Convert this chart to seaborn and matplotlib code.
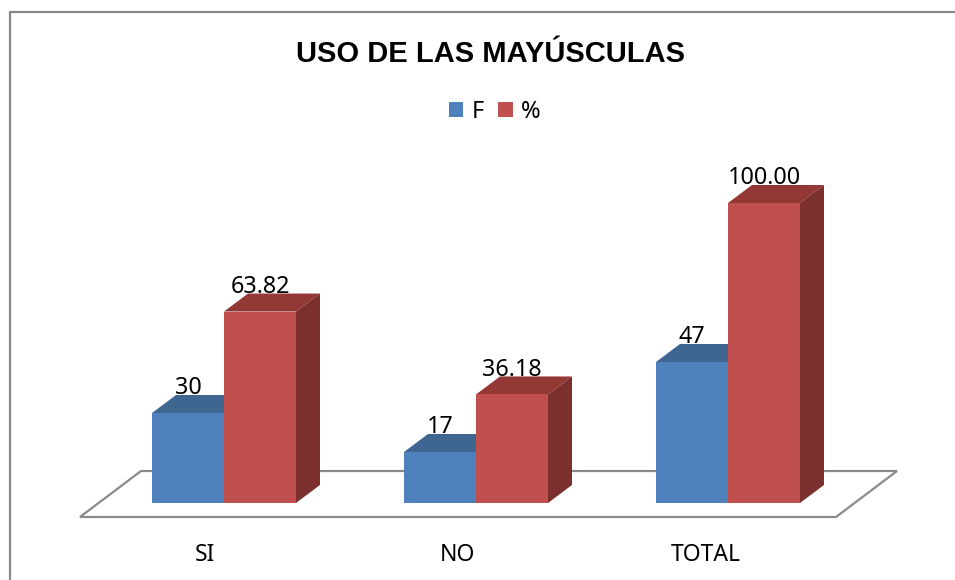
import pandas as pd
import seaborn as sns
import matplotlib.pyplot as plt
from matplotlib.lines import Line2D
from matplotlib.patches import Polygon

categories = ['SI', 'NO', 'TOTAL']
f_values = [30, 17, 47]
pct_values = [63.82, 36.18, 100.00]
series_names = ['F', '%']

blue = '#4F81BD'
red = '#C0504D'
gray = '#8A8A8A'
faces = {'F': ('#3F6591', '#375A80'), '%': ('#943836', '#7B302E')}

# fake 3d depth in data units (252 px per category, 3 px per value)
DEPTH_X = 24 / 252
DEPTH_Y = 18 / 3


def to_px_x(px):
    return (px - 224) / 252


def to_px_y(px):
    return (503 - px) / 3


def create_chart(output_path='out.png'):
    sns.set_theme(style='white')
    plt.rcParams['font.family'] = ['Noto Sans', 'DejaVu Sans']
    plt.rcParams['text.color'] = 'black'

    df = pd.DataFrame({
        'categoria': categories * 2,
        'serie': [series_names[0]] * 3 + [series_names[1]] * 3,
        'valor': f_values + pct_values,
    })

    fig = plt.figure(figsize=(9.55, 5.8), dpi=100)
    ax = fig.add_axes([98 / 955, 1 - 503 / 580, 756 / 955, 360 / 580])

    sns.barplot(data=df, x='categoria', y='valor', hue='serie', ax=ax,
                palette=[blue, red], width=2 * 72 / 252, gap=0, saturation=1,
                linewidth=0, errorbar=None)
    ax.set_xlim(-0.5, 2.5)
    ax.set_ylim(0, 120)

    # floor of the 3d chart
    floor = Polygon([(to_px_x(80), to_px_y(517)), (to_px_x(836), to_px_y(517)),
                     (to_px_x(897), to_px_y(471)), (to_px_x(141), to_px_y(471))],
                    closed=True, facecolor='white', edgecolor=gray, linewidth=1.6,
                    zorder=1, clip_on=False)
    ax.add_patch(floor)

    labels = [[str(v) for v in f_values], ['%.2f' % v for v in pct_values]]
    for i, container in enumerate(ax.containers):
        name = series_names[i]
        for bar in container:
            bar.set_zorder(3 + 2 * i)
            x0, x1 = bar.get_x(), bar.get_x() + bar.get_width()
            h = bar.get_height()
            top = [(x0, h), (x1, h), (x1 + DEPTH_X, h + DEPTH_Y), (x0 + DEPTH_X, h + DEPTH_Y)]
            side = [(x1, 0), (x1 + DEPTH_X, DEPTH_Y), (x1 + DEPTH_X, h + DEPTH_Y), (x1, h)]
            ax.add_patch(Polygon(top, facecolor=faces[name][0], linewidth=0,
                                 zorder=2.5 + 2 * i, clip_on=False))
            ax.add_patch(Polygon(side, facecolor=faces[name][1], linewidth=0,
                                 zorder=2.5 + 2 * i, clip_on=False))
        texts = ax.bar_label(container, labels=labels[i], padding=9.3, fontsize=16.8,
                             color='black', zorder=10)
        for t in texts:
            t.set_clip_on(False)

    ax.set_xticks([to_px_x(205), to_px_x(457), to_px_x(706)])
    ax.set_xticklabels(categories, fontsize=16.5, color='black')
    ax.tick_params(axis='x', length=0, pad=28.5)
    ax.set_yticks([])
    ax.set_xlabel('')
    ax.set_ylabel('')
    sns.despine(ax=ax, left=True, bottom=True)

    sns.move_legend(ax, 'center', bbox_to_anchor=(494.5 / 955, 1 - 112 / 580),
                    bbox_transform=fig.transFigure, ncol=2, title=None, frameon=False,
                    fontsize=17, handlelength=0.62, handleheight=0.62,
                    handletextpad=0.35, columnspacing=0.6)

    fig.text(490 / 955, 1 - 54 / 580, 'USO DE LAS MAYÚSCULAS', ha='center', va='center',
             fontsize=21, fontweight='bold', color='black',
             family=['Liberation Sans', 'DejaVu Sans'])

    # chart frame, only top and left show in the crop
    fig.add_artist(Line2D([10 / 955, 1], [1 - 12 / 580, 1 - 12 / 580], color=gray, lw=1.6))
    fig.add_artist(Line2D([10 / 955, 10 / 955], [0, 1 - 12 / 580], color=gray, lw=1.6))

    plt.savefig(output_path, dpi=100)
    plt.close()


if __name__ == '__main__':
    create_chart()
